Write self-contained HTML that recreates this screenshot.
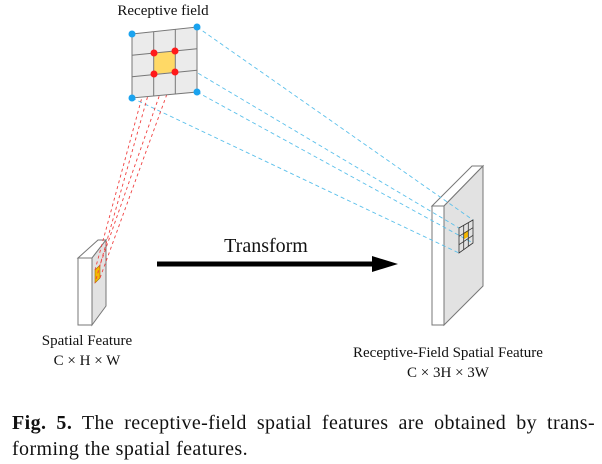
<!DOCTYPE html>
<html><head><meta charset="utf-8"><style>
html,body{margin:0;padding:0;background:#fff;width:602px;height:464px;overflow:hidden}
.cap{position:absolute;left:12px;width:583px;font-family:"Liberation Serif",serif;font-size:20px;letter-spacing:0.4px;color:#111;line-height:26px;text-align:justify;text-align-last:justify;white-space:nowrap}
</style></head><body>
<svg width="602" height="400" style="position:absolute;left:0;top:0" font-family="Liberation Serif, serif">
<!-- right box -->
<polygon points="432,206 472,166 483,166 444,206" fill="#fff" stroke="#777" stroke-width="1"/>
<polygon points="444,206 483,166 483,286 444,325" fill="#e2e2e2" stroke="#777" stroke-width="1"/>
<rect x="432" y="206" width="12" height="119" fill="#fff" stroke="#777" stroke-width="1"/>
<!-- blue dashed -->
<g stroke="#5bc0eb" stroke-width="0.9" stroke-dasharray="4,3" fill="none">
<line x1="132" y1="34" x2="459" y2="228"/>
<line x1="197" y1="27" x2="473" y2="220"/>
<line x1="132" y1="98" x2="459" y2="253"/>
<line x1="197" y1="92" x2="473" y2="243"/>
</g>
<!-- small grid right -->
<polygon points="463.7,232.7 468.3,230 468.3,236.7 463.7,239.3" fill="#f5b800"/>
<g stroke="#333" stroke-width="0.8" fill="none">
<polygon points="459,228 473,220 473,243 459,253"/>
<line x1="463.7" y1="225.3" x2="463.7" y2="249.7"/>
<line x1="468.3" y1="222.7" x2="468.3" y2="246.3"/>
<line x1="459" y1="236.3" x2="473" y2="227.7"/>
<line x1="459" y1="244.7" x2="473" y2="235.3"/>
</g>
<!-- left box -->
<polygon points="78,258 98,240 106,240 92,258" fill="#fff" stroke="#777" stroke-width="1"/>
<polygon points="92,258 106,240 106,306 92,325" fill="#e2e2e2" stroke="#777" stroke-width="1"/>
<rect x="78" y="258" width="14" height="67" fill="#fff" stroke="#777" stroke-width="1"/>
<polygon points="95,270 100,265 100,278 95,283" fill="#f5b800" stroke="#a07000" stroke-width="0.6"/>
<!-- red dashed -->
<g stroke="#f04040" stroke-width="0.9" stroke-dasharray="3,3" fill="none">
<line x1="154" y1="53" x2="95" y2="270"/>
<line x1="175" y1="51" x2="100" y2="265"/>
<line x1="154" y1="74" x2="95" y2="283"/>
<line x1="175" y1="72" x2="100" y2="278"/>
</g>
<!-- receptive grid -->
<polygon points="132,34 197,27 197,92 132,98" fill="#ebebeb"/>
<polygon points="154,53 175,51 175,72 154,74" fill="#ffd966"/>
<g stroke="#777" stroke-width="1" fill="none">
<polygon points="132,34 197,27 197,92 132,98"/>
<line x1="153.7" y1="31.7" x2="153.7" y2="96"/>
<line x1="175.3" y1="29.3" x2="175.3" y2="94"/>
<line x1="132" y1="55.3" x2="197" y2="48.7"/>
<line x1="132" y1="76.7" x2="197" y2="70.3"/>
</g>
<g fill="#ff1a1a"><circle cx="154" cy="53" r="3.5"/><circle cx="175" cy="51" r="3.5"/><circle cx="154" cy="74" r="3.5"/><circle cx="175" cy="72" r="3.5"/></g>
<g fill="#1aa3ef"><circle cx="132" cy="34" r="3.5"/><circle cx="197" cy="27" r="3.5"/><circle cx="132" cy="98" r="3.5"/><circle cx="197" cy="92" r="3.5"/></g>
<!-- arrow -->
<line x1="157" y1="264" x2="376" y2="264" stroke="#000" stroke-width="5"/>
<polygon points="372,256 398,264 372,272" fill="#000"/>
<g fill="#111" text-anchor="middle">
<text x="163" y="15" font-size="15">Receptive field</text>
<text x="266" y="252" font-size="20">Transform</text>
<text x="87" y="345" font-size="15">Spatial Feature</text>
<text x="87" y="365" font-size="15">C × H × W</text>
<text x="448" y="357" font-size="15">Receptive-Field Spatial Feature</text>
<text x="448" y="377" font-size="15">C × 3H × 3W</text>
</g>
</svg>
<div class="cap" style="top:410px"><b>Fig. 5.</b> The receptive-field spatial features are obtained by trans-</div>
<div class="cap" style="top:436px;text-align-last:left">forming the spatial features.</div>
</body></html>
